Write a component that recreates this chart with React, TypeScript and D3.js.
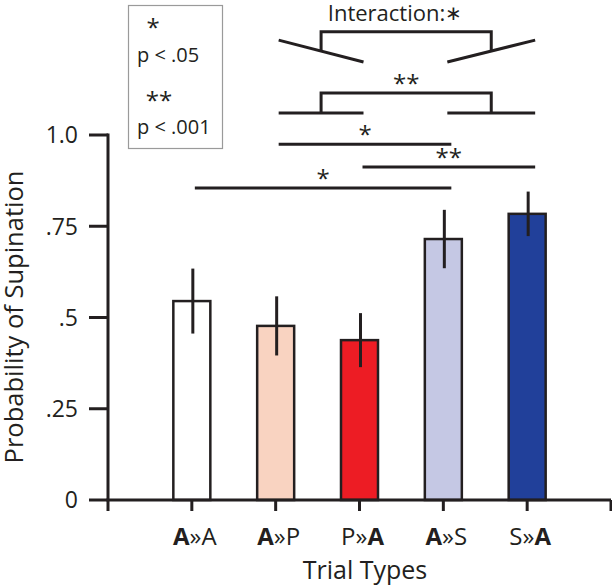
import React from "react";
import * as d3 from "d3";

const categories = ["A»A", "A»P", "P»A", "A»S", "S»A"];
// which part of each label is bold: [bold first?, bold last?]
const boldParts: [boolean, boolean][] = [
  [true, false],
  [true, false],
  [false, true],
  [true, false],
  [false, true],
];
const means = [0.545, 0.477, 0.438, 0.715, 0.784];
const errors = [0.089, 0.081, 0.074, 0.08, 0.061];
const barColors = ["#ffffff", "#f9d3c1", "#ed1c24", "#c5c8e4", "#21409a"];
const yTicks = [0, 0.25, 0.5, 0.75, 1.0];
const yTickLabels = ["0", ".25", ".5", ".75", "1.0"];

// pairwise significance lines: from category, to category, level (data units), label
const sigLines = [
  { from: "A»A", to: "A»S", level: 0.855, label: "*" },
  { from: "P»A", to: "S»A", level: 0.912, label: "**" },
  { from: "A»P", to: "A»S", level: 0.975, label: "*" },
];

const W = 612;
const H = 587;
const ink = "#231f20";
const font = "'Open Sans', 'Noto Sans', sans-serif";

export default function App() {
  const x = d3.scaleLinear().domain([0, 6]).range([108, 611]);
  const y = d3.scaleLinear().domain([0, 1]).range([500, 135]);
  const pos = (c: string) => x(categories.indexOf(c) + 1);
  const barW = 37;

  const splitLabel = (lab: string) => lab.split("»");

  // grouped bracket (A»P,P»A) vs (A»S,S»A)
  const gL1 = pos("A»P") + 3;
  const gL2 = pos("P»A") + 4;
  const gR1 = pos("A»S") + 4;
  const gR2 = pos("S»A") + 8;
  const gLm = (gL1 + gL2) / 2;
  const gRm = (gR1 + gR2) / 2;

  const lvlPairs = y(1.06);
  const lvlPairBracket = y(1.115);
  const lvlIntLow = y(1.2);
  const lvlIntHigh = y(1.26);
  const lvlIntBracket = y(1.283);
  const slope = (lvlIntLow - lvlIntHigh) / (gL2 - gL1);

  return (
    <svg
      width={W}
      height={H}
      style={{ position: "absolute", left: 0, top: 0, background: "#fff" }}
      fontFamily={font}
    >
      {/* legend box */}
      <rect x={128.5} y={5.5} width={94} height={143} fill="none" stroke="#9a9a9a" strokeWidth={1.2} />
      <text x={153} y={36} fontSize={24} fill={ink} textAnchor="middle">*</text>
      <text x={137} y={62} fontSize={20} fill={ink}>p &lt; .05</text>
      <text x={159} y={109} fontSize={24} fill={ink} textAnchor="middle">**</text>
      <text x={137} y={134} fontSize={20} fill={ink}>p &lt; .001</text>

      {/* y axis */}
      <line x1={108} x2={108} y1={y(1) - 1.5} y2={y(0)} stroke={ink} strokeWidth={3} />
      {yTicks.map((t, i) => (
        <g key={i}>
          <line x1={89} x2={108} y1={y(t)} y2={y(t)} stroke={ink} strokeWidth={3} />
          <text x={78} y={y(t)} dy="0.36em" fontSize={23} textAnchor="end" fill={ink}>
            {yTickLabels[i]}
          </text>
        </g>
      ))}
      <text
        transform={`translate(23,317) rotate(-90)`}
        fontSize={25.5}
        textAnchor="middle"
        fill={ink}
      >
        Probability of Supination
      </text>

      {/* bars */}
      {categories.map((c, i) => (
        <rect
          key={c}
          x={pos(c) - barW / 2}
          y={y(means[i])}
          width={barW}
          height={y(0) - y(means[i])}
          fill={barColors[i]}
          stroke={ink}
          strokeWidth={2.5}
        />
      ))}
      {/* error bars */}
      {categories.map((c, i) => (
        <line
          key={c}
          x1={pos(c) + 1}
          x2={pos(c) + 1}
          y1={y(means[i] + errors[i])}
          y2={y(means[i] - errors[i])}
          stroke={ink}
          strokeWidth={3}
        />
      ))}

      {/* x axis */}
      <line x1={106.5} x2={611} y1={y(0)} y2={y(0)} stroke={ink} strokeWidth={3} />
      {d3.range(0, 7).map((t) => (
        <line key={t} x1={x(t)} x2={x(t)} y1={y(0)} y2={y(0) + 11} stroke={ink} strokeWidth={3} />
      ))}
      {categories.map((c, i) => {
        const [a, b] = splitLabel(c);
        return (
          <text key={c} x={pos(c) + 3} y={545} fontSize={24} textAnchor="middle" fill={ink}>
            <tspan fontWeight={boldParts[i][0] ? 700 : 400}>{a}</tspan>
            <tspan>»</tspan>
            <tspan fontWeight={boldParts[i][1] ? 700 : 400}>{b}</tspan>
          </text>
        );
      })}
      <text x={365} y={579} fontSize={25} textAnchor="middle" fill={ink}>
        Trial Types
      </text>

      {/* pairwise significance lines */}
      {sigLines.map((s, i) => {
        const x1 = pos(s.from) + 3;
        const x2 = pos(s.to) + 8;
        const yy = y(s.level);
        return (
          <g key={i}>
            <line x1={x1} x2={x2} y1={yy} y2={yy} stroke={ink} strokeWidth={3} />
            <text x={(x1 + x2) / 2} y={yy - 1} fontSize={24} textAnchor="middle" fill={ink}>
              {s.label}
            </text>
          </g>
        );
      })}

      {/* grouped main-effect bracket */}
      <line x1={gL1} x2={gL2} y1={lvlPairs} y2={lvlPairs} stroke={ink} strokeWidth={3} />
      <line x1={gR1} x2={gR2} y1={lvlPairs} y2={lvlPairs} stroke={ink} strokeWidth={3} />
      <path
        d={`M${gLm},${lvlPairs} V${lvlPairBracket} H${gRm} V${lvlPairs}`}
        fill="none"
        stroke={ink}
        strokeWidth={3}
      />
      <text x={(gLm + gRm) / 2} y={lvlPairBracket - 1} fontSize={24} textAnchor="middle" fill={ink}>
        **
      </text>

      {/* interaction bracket */}
      <line x1={gL1} x2={gL2} y1={lvlIntHigh} y2={lvlIntLow} stroke={ink} strokeWidth={3} />
      <line x1={gR1} x2={gR2} y1={lvlIntLow} y2={lvlIntHigh} stroke={ink} strokeWidth={3} />
      <path
        d={`M${gLm},${lvlIntHigh + slope * (gLm - gL1)} V${lvlIntBracket} H${gRm} V${lvlIntHigh + slope * (gR2 - gRm)}`}
        fill="none"
        stroke={ink}
        strokeWidth={3}
      />
      <text x={395} y={21} fontSize={22} textAnchor="middle" fill={ink}>
        Interaction:<tspan fontSize={20} dy={-1}>∗</tspan>
      </text>
    </svg>
  );
}
